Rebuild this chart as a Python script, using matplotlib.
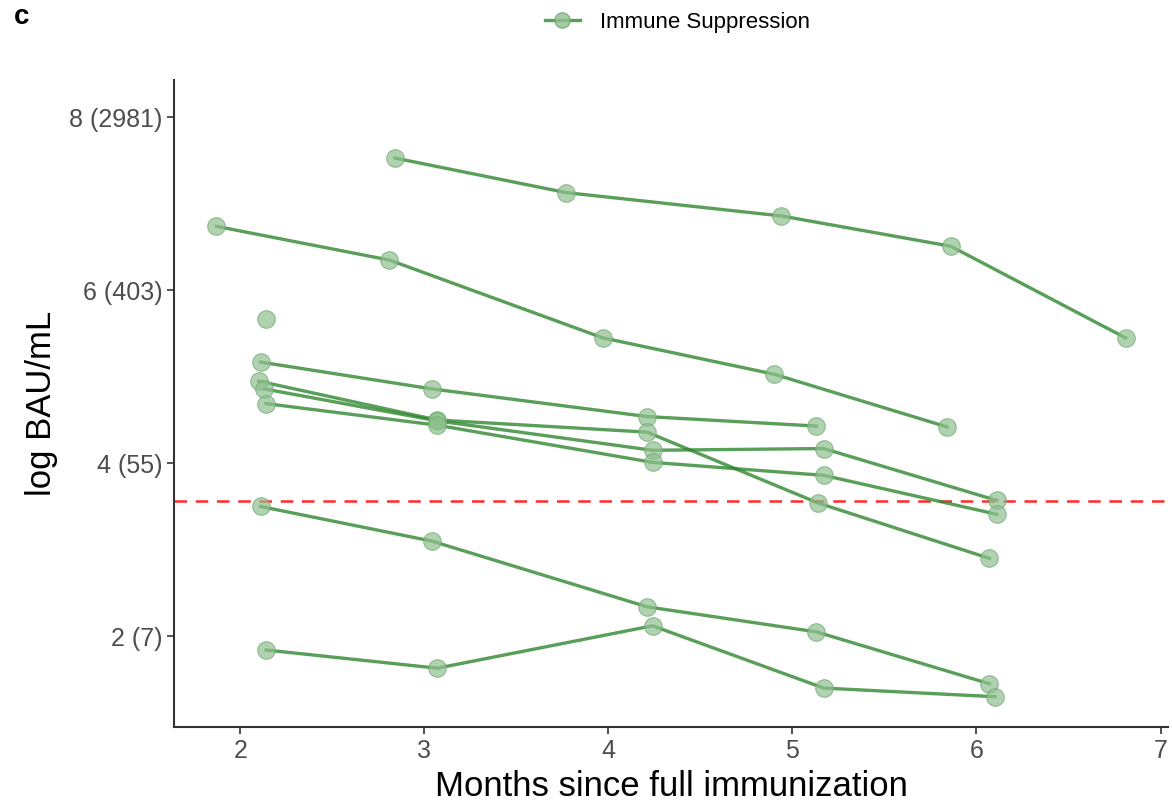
import matplotlib.pyplot as plt

plt.rcParams['font.family'] = ['Liberation Sans', 'DejaVu Sans']

# months since full immunization / log BAU/mL, one list per patient
months = [
    [2.84, 3.77, 4.94, 5.86, 6.81],
    [1.87, 2.81, 3.97, 4.90, 5.84],
    [2.11, 3.04, 4.21, 5.13],
    [2.10, 3.07, 4.21, 5.14, 6.07],
    [2.13, 3.07, 4.24, 5.17, 6.11],
    [2.14, 3.07, 4.24, 5.17, 6.11],
    [2.11, 3.04, 4.21, 5.13, 6.07],
    [2.14, 3.07, 4.24, 5.17, 6.10],
    [2.14],
]
log_bau = [
    [7.53, 7.13, 6.86, 6.51, 5.45],
    [6.74, 6.35, 5.45, 5.03, 4.42],
    [5.17, 4.86, 4.54, 4.43],
    [4.95, 4.50, 4.36, 3.54, 2.90],
    [4.86, 4.49, 4.15, 4.17, 3.57],
    [4.69, 4.44, 4.01, 3.86, 3.41],
    [3.50, 3.10, 2.34, 2.05, 1.45],
    [1.84, 1.63, 2.12, 1.40, 1.30],
    [5.67],
]
threshold = 3.56

y_ticks = [2, 4, 6, 8]
y_labels = ['2 (7)', '4 (55)', '6 (403)', '8 (2981)']

line_col = '#2f872f'
marker_col = '#8fc08f'

fig = plt.figure(figsize=(11.72, 8.10), dpi=100)
ax = fig.add_axes([0.1485, 0.1025, 0.848, 0.7985])

for i, (xs, ys) in enumerate(zip(months, log_bau)):
    ax.plot(xs, ys, color=line_col, lw=2.4, alpha=0.8, zorder=2)
    ax.scatter(xs, ys, s=160, color=marker_col, alpha=0.7,
               edgecolors='#6fa86f', linewidths=0.8, zorder=3)

ax.axhline(threshold, color='#ff2a2a', lw=1.8, ls=(0, (5, 3.5)), zorder=1)

ax.set_xlim(1.64, 7.04)
ax.set_ylim(0.95, 8.43)
ax.set_xticks([2, 3, 4, 5, 6, 7])
ax.set_yticks(y_ticks)
ax.set_yticklabels(y_labels)
ax.tick_params(labelsize=18, colors='#333333', length=5, width=1.2,
               labelcolor='#4d4d4d')
for s in ['top', 'right']:
    ax.spines[s].set_visible(False)
for s in ['left', 'bottom']:
    ax.spines[s].set_linewidth(1.5)
    ax.spines[s].set_color('#333333')

ax.set_xlabel('Months since full immunization', fontsize=25, labelpad=5)
ax.set_ylabel('log BAU/mL', fontsize=25, labelpad=8)

# legend with marker + line
handle = plt.Line2D([], [], color=line_col, lw=2.4, marker='o',
                    markersize=11, markerfacecolor=marker_col,
                    markeredgecolor='#6fa86f', alpha=0.8)
fig.legend([handle], ['Immune Suppression'], loc='center',
           bbox_to_anchor=(0.578, 0.972), frameon=False, fontsize=16,
           handlelength=1.6, handletextpad=0.9)

fig.text(0.012, 0.995, 'c', fontsize=20, fontweight='bold', va='top')

fig.savefig('out.png', dpi=100)
